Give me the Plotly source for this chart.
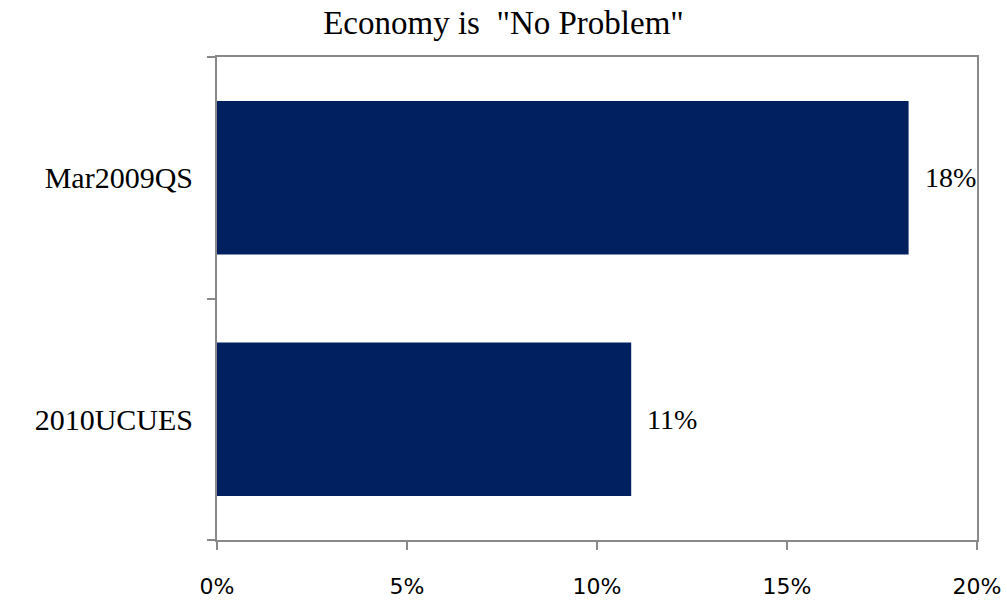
import plotly.graph_objects as go

# Survey share answering that the economy is "No Problem"
surveys = ["2010UCUES", "Mar2009QS"]
share = [0.109, 0.182]
x_ticks = [0, 0.05, 0.10, 0.15, 0.20]
x_tick_text = ["0%", "5%", "10%", "15%", "20%"]

BAR_COLOR = "#002060"
AXIS_COLOR = "#898989"
SERIF = "Liberation Serif, Times New Roman, serif"
SANS = "DejaVu Sans, Verdana, sans-serif"

fig = go.Figure(
    go.Bar(
        x=share,
        y=surveys,
        orientation="h",
        marker=dict(color=BAR_COLOR, line=dict(width=0)),
        hoverinfo="skip",
    )
)

# value labels just past the end of each bar
for s, v in zip(surveys, share):
    fig.add_annotation(
        x=v, y=s, xref="x", yref="y",
        text=f"{v:.0%}",
        showarrow=False,
        xanchor="left", yanchor="middle",
        xshift=14,
        font=dict(family=SERIF, size=28, color="#000000"),
    )

fig.update_layout(
    width=1007,
    height=601,
    margin=dict(l=217, r=30, t=57, b=61),
    paper_bgcolor="white",
    plot_bgcolor="white",
    bargap=0.365,
    showlegend=False,
    title=dict(
        text='Economy is  "No Problem"',
        x=0.5, xref="container", xanchor="center",
        y=1 - 22 / 601, yref="container", yanchor="middle",
        font=dict(family=SERIF, size=33, color="#000000"),
    ),
)

fig.update_xaxes(
    range=[0, 0.2],
    tickvals=x_ticks,
    ticktext=x_tick_text,
    showgrid=False,
    zeroline=False,
    showline=True,
    linecolor=AXIS_COLOR,
    linewidth=2,
    mirror=True,
    ticks="outside",
    ticklen=8,
    tickwidth=2,
    tickcolor=AXIS_COLOR,
    ticklabelstandoff=18,
    tickfont=dict(family=SANS, size=22, color="#000000"),
    automargin=False,
    fixedrange=True,
)

fig.update_yaxes(
    type="category",
    categoryorder="array",
    categoryarray=surveys,
    showgrid=False,
    zeroline=False,
    showline=True,
    linecolor=AXIS_COLOR,
    linewidth=2,
    mirror=True,
    ticks="outside",
    tickson="boundaries",
    ticklen=8,
    tickwidth=2,
    tickcolor=AXIS_COLOR,
    ticklabelstandoff=16,
    tickfont=dict(family=SERIF, size=30, color="#000000"),
    automargin=False,
    fixedrange=True,
)

fig.write_html("out.html", config={"displayModeBar": False})
